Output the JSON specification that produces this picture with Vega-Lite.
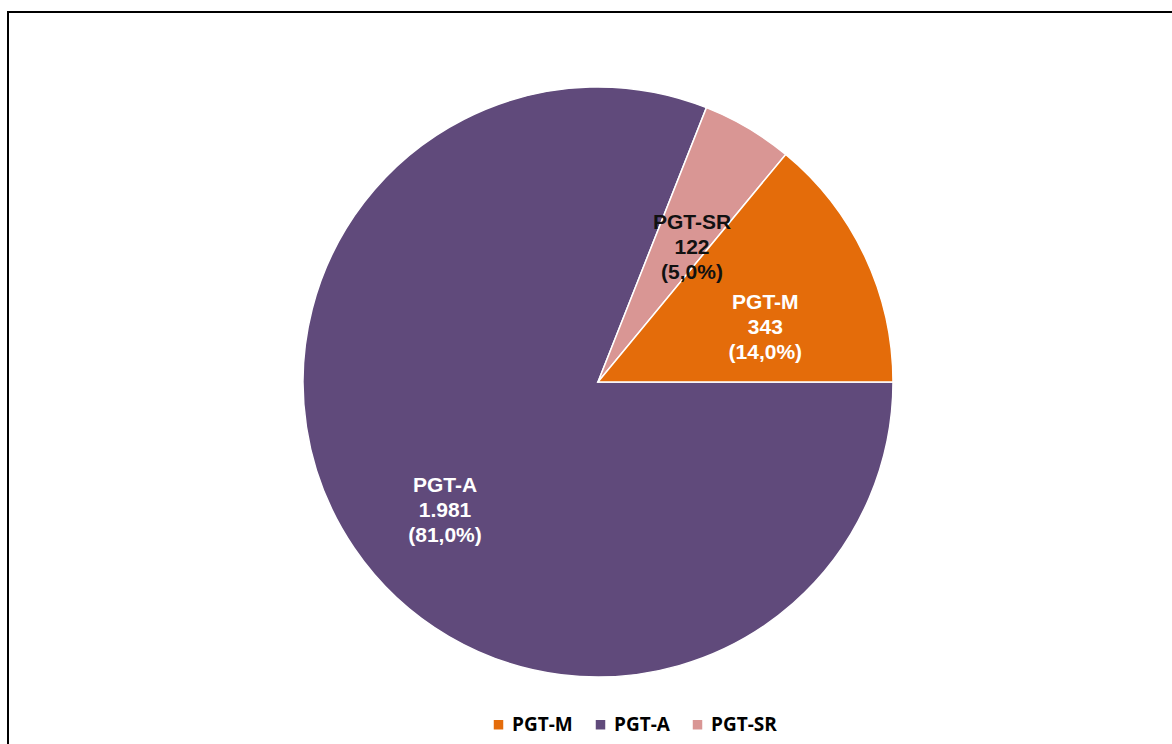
{
  "$schema": "https://vega.github.io/schema/vega-lite/v6.json",
  "width": 1180,
  "height": 740,
  "autosize": {"type": "none"},
  "padding": {"left": 8, "top": 12, "right": 0, "bottom": 0},
  "view": {"stroke": "#000000", "strokeWidth": 2, "fill": "#ffffff"},
  "config": {
    "text": {"lineBreak": "\n"}
  },
  "data": {
    "values": [
      {"cat": "PGT-A", "n": 1981, "order": 1, "label": "PGT-A\n1.981\n(81,0%)"},
      {"cat": "PGT-SR", "n": 122, "order": 2, "label": "PGT-SR\n122\n(5,0%)"},
      {"cat": "PGT-M", "n": 343, "order": 3, "label": "PGT-M\n343\n(14,0%)"}
    ]
  },
  "encoding": {
    "theta": {"field": "n", "type": "quantitative", "stack": true, "scale": {"range": [1.5708, 7.854]}},
    "order": {"field": "order", "type": "quantitative"}
  },
  "layer": [
    {
      "mark": {"type": "arc", "outerRadius": 295, "stroke": "#ffffff", "strokeWidth": 1.5},
      "encoding": {
        "color": {
          "field": "cat",
          "type": "nominal",
          "scale": {"domain": ["PGT-M", "PGT-A", "PGT-SR"], "range": ["#E46C0A", "#604A7B", "#D99694"]},
          "legend": {
            "orient": "none",
            "direction": "horizontal",
            "legendX": 481,
            "legendY": 703,
            "title": null,
            "symbolType": "square",
            "symbolSize": 90,
            "symbolStrokeWidth": 0,
            "labelFont": "Open Sans",
            "labelFontSize": 19,
            "labelFontWeight": "bold",
            "labelColor": "#000000",
            "columnPadding": 18
          }
        }
      }
    },
    {
      "mark": {"type": "text", "radius": 185, "font": "Liberation Sans", "fontSize": 21, "fontWeight": "bold", "lineHeight": 25},
      "encoding": {
        "text": {"field": "label", "type": "nominal"},
        "color": {"condition": {"test": "datum.cat === 'PGT-SR'", "value": "#111111"}, "value": "#ffffff"}
      }
    }
  ]
}
